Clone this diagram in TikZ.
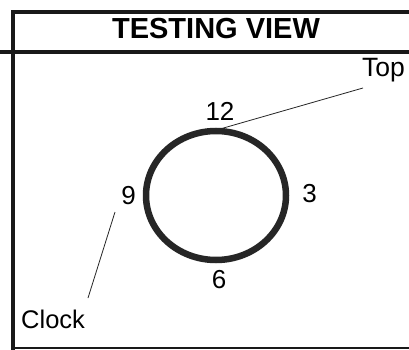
\documentclass[tikz,border=0pt]{standalone}
\usepackage{fontspec}
\setmainfont{Liberation Sans}
\usetikzlibrary{shapes.geometric}
\begin{document}
\begin{tikzpicture}[x=1pt,y=-1pt,
  lbl/.style={inner sep=0pt,anchor=base,font=\fontsize{26}{26}\selectfont},
  frame/.style={line width=3.5pt,black!90},
  leader/.style={line width=0.8pt,black!85}]
\useasboundingbox (0,0) rectangle (409,350);
\fill[white] (0,0) rectangle (409,350);
% frame
\draw[frame] (409,12) -- (13,12) -- (13,350);
\draw[frame,line width=4pt] (0,52) -- (409,52);
\draw[frame,line width=2.5pt] (13,348) -- (409,348);
% title
\node[inner sep=0pt,anchor=base,font=\bfseries\fontsize{29}{29}\selectfont] (title) at (216,39) {TESTING VIEW};
% ring
\node[ellipse,draw,line width=6.5pt,black!85,minimum width=140pt,minimum height=129pt,inner sep=0pt] (ring) at (216,195.5) {};
% labels
\node[lbl] (n12) at (220,121) {12};
\node[lbl] (n3) at (309.5,202) {3};
\node[lbl] (n9) at (128.5,204) {9};
\node[lbl] (n6) at (219,288) {6};
\node[lbl,anchor=base west,font=\fontsize{26.5}{26.5}\selectfont] (top) at (362,77) {Top};
\node[lbl,anchor=base west,font=\fontsize{25.5}{25.5}\selectfont] (clock) at (21,328) {Clock};
% leaders
\coordinate (topend) at (363,88);
\coordinate (ringtop) at (220,129);
\coordinate (clkstart) at (115,212);
\coordinate (clkend) at (88,298);
\draw[leader] (ringtop) -- (topend);
\draw[leader] (clkstart) -- (clkend);
\end{tikzpicture}
\end{document}
